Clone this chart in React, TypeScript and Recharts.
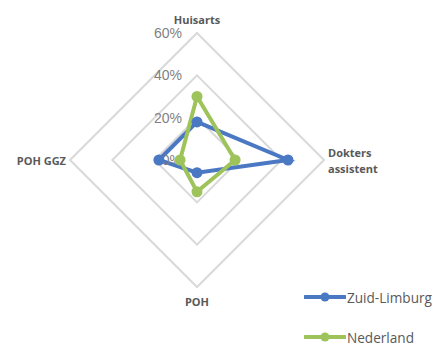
import { RadarChart, Radar, PolarGrid, PolarAngleAxis, PolarRadiusAxis } from 'recharts'

const categories = ['Huisarts', 'Dokters assistent', 'POH', 'POH GGZ']
const zuidLimburg = [18, 43, 6, 18]
const nederland = [30, 18, 15, 8]
const radiusTicks = [0, 20, 40, 60]

const BLUE = '#4a78c2'
const GREEN = '#9dc35a'
const LABEL = '#595959'

const data = categories.map((name, i) => ({
  name,
  zuid: zuidLimburg[i],
  ned: nederland[i]
}))

const series = [
  { key: 'zuid', label: 'Zuid-Limburg', color: BLUE },
  { key: 'ned', label: 'Nederland', color: GREEN }
]

function AngleTick({ x, y, payload, textAnchor }: any) {
  const words: string[] = payload.value === 'Dokters assistent' ? payload.value.split(' ') : [payload.value]
  let dx = 0
  let dy = 0
  if (textAnchor === 'start') dx = -4
  if (textAnchor === 'end') dx = 4
  if (textAnchor === 'middle' && y < 100) dy = -6
  if (textAnchor === 'middle' && y > 200) dy = 6
  const lh = 16
  const start = y + dy - ((words.length - 1) * lh) / 2
  return (
    <text
      x={x + dx}
      y={start}
      textAnchor={textAnchor}
      dominantBaseline="central"
      fontFamily="'Open Sans', sans-serif"
      fontSize={11}
      fontWeight={700}
      fill={LABEL}
    >
      {words.map((w, i) => (
        <tspan key={w} x={x + dx} y={start + i * lh}>
          {w}
        </tspan>
      ))}
    </text>
  )
}

function RadiusTick({ x, y, payload }: any) {
  return (
    <text
      x={x - 15}
      y={y}
      textAnchor="end"
      dominantBaseline="central"
      fontFamily="'Liberation Sans', Arial, sans-serif"
      fontSize={14}
      fill="#7f7f7f"
    >
      {payload.value}%
    </text>
  )
}

const makeDot = (color: string) => (props: any) => (
  <circle key={`${color}-${props.index}`} cx={props.cx} cy={props.cy} r={5.5} fill={color} stroke="none" />
)

function LegendBox() {
  return (
    <div style={{ position: 'absolute', left: 304, top: 286 }}>
      {series.map((s, i) => (
        <div key={s.key} style={{ display: 'flex', alignItems: 'center', height: 22, marginTop: i ? 18 : 0 }}>
          <svg width={42} height={12}>
            <line x1={1} y1={6} x2={41} y2={6} stroke={s.color} strokeWidth={4} strokeLinecap="round" />
            <circle cx={21} cy={6} r={4.5} fill={s.color} />
          </svg>
          <span
            style={{
              fontFamily: "'Open Sans', sans-serif",
              fontSize: 13.6,
              color: LABEL,
              marginLeft: 1,
              whiteSpace: 'nowrap'
            }}
          >
            {s.label}
          </span>
        </div>
      ))}
    </div>
  )
}

export default function App() {
  return (
    <div style={{ position: 'absolute', left: 0, top: 0, width: 433, height: 349, background: '#fff', overflow: 'hidden' }}>
      <RadarChart width={433} height={349} data={data} cx={197} cy={160} outerRadius={127}>
        <PolarGrid gridType="polygon" radialLines={false} stroke="#d9d9d9" strokeWidth={2} />
        <PolarAngleAxis dataKey="name" tick={<AngleTick />} axisLine={false} tickLine={false} />
        <Radar
          dataKey="zuid"
          stroke={BLUE}
          strokeWidth={4}
          fill="none"
          fillOpacity={0}
          dot={makeDot(BLUE)}
          isAnimationActive={false}
        />
        <Radar
          dataKey="ned"
          stroke={GREEN}
          strokeWidth={4}
          fill="none"
          fillOpacity={0}
          dot={makeDot(GREEN)}
          isAnimationActive={false}
        />
        <PolarRadiusAxis
          angle={90}
          domain={[0, 60]}
          ticks={radiusTicks as any}
          tickCount={4}
          axisLine={false}
          tickLine={false}
          tick={<RadiusTick />}
        />
      </RadarChart>
      <LegendBox />
    </div>
  )
}
